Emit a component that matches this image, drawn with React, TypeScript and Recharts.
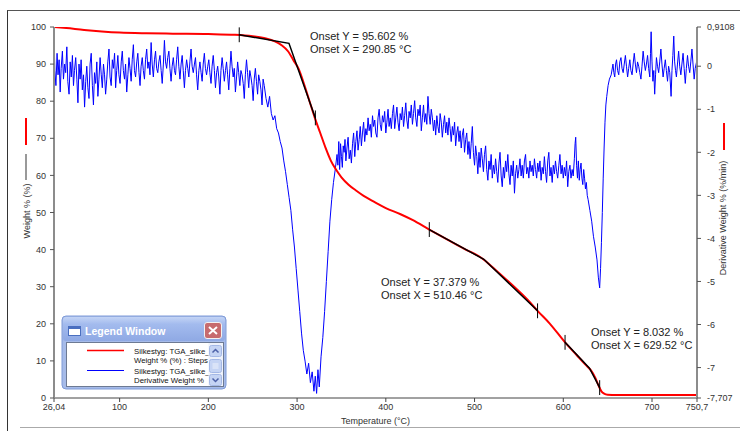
import React from 'react';
import { ComposedChart, Line, XAxis, YAxis, ReferenceLine } from 'recharts';

// temperature (°C) axis and the two value axes
const tempTicks = [26.04, 100, 200, 300, 400, 500, 600, 700, 750.7];
const weightTicks = [0, 10, 20, 30, 40, 50, 60, 70, 80, 90, 100];
const derivTicks = [0.9108, 0, -1, -2, -3, -4, -5, -6, -7, -7.707];

// TGA weight % vs temperature
const weightCurve: [number, number][] = [
  [26.04, 100], [40, 99.7], [60, 99.2], [80, 98.8], [100, 98.5], [130, 98.3], [160, 98.2],
  [200, 98.1], [230, 97.9], [250, 97.5], [265, 96.9], [275, 96.1], [283, 95.0], [290, 93.4],
  [296, 91.0], [302, 88.6], [308, 84.5], [314, 80.0], [320, 75.5], [326, 71.5], [332, 67.5],
  [338, 64.0], [344, 61.5], [350, 59.5], [358, 57.5], [366, 56.0], [375, 54.5], [386, 53.0],
  [400, 51.2], [416, 49.6], [430, 48.0], [449, 45.4], [470, 42.6], [490, 40.0], [505, 38.2],
  [512, 37.0], [520, 35.3], [540, 31.0], [560, 26.4], [571, 23.5], [585, 20.0], [602, 15.0],
  [615, 11.6], [625, 9.0], [631, 7.5], [636, 5.5], [640, 3.2], [643, 1.8], [646, 1.2],
  [650, 0.9], [660, 0.8], [750.7, 0.8],
];

// derivative weight % (%/min)
const derivCurve: [number, number][] = [
  [26.04, 0.72], [27, -0.1], [28.2, -0.45], [29.5, 0.3], [30.6, -0.2], [31.8, 0.15], [33, -0.6],
  [34.1, -0.05], [35.5, 0.35], [36.7, -0.3], [38, 0.05], [39.2, -0.15], [40.5, 0.45], [41.6, -0.35],
  [43, -0.65], [44.3, 0.1], [45.5, -0.25], [46.8, 0.25], [48, -0.45], [49.1, -0.1], [50.5, 0.2],
  [51.8, -0.3], [53, -0.85], [54.2, 0.05], [55.5, -0.3], [56.6, 0.15], [58, -0.55], [59.3, -0.2],
  [60.5, -0.95], [61.8, -0.35], [63, 0.0], [64.2, -0.5], [65.5, -0.75], [66.7, 0.05], [68, 0.3],
  [69.3, -0.45], [70.5, -0.9], [71.7, -0.15], [73, -0.4], [74.3, 0.1], [75.5, -0.7], [76.7, -0.3],
  [78, 0.2], [79.3, -0.2], [80.5, -0.5], [81.8, 0.05], [83, -0.2], [84.2, -0.65], [85.5, -0.3],
  [86.7, 0.1], [88, 0.4], [89.2, -0.25], [90.5, -0.45], [91.8, 0.15], [93, -0.05], [94.3, 0.3],
  [95.5, -0.5], [96.7, -0.1], [98, 0.25], [99.2, -0.2], [100.5, -0.4], [101.8, 0.1], [103, 0.35],
  [104.2, -0.1], [105.5, -0.3], [106.7, 0.05], [108, -0.6], [109.3, -0.2], [110.5, 0.2],
  [111.7, -0.05], [113, -0.35], [114.2, 0.15], [115.5, 0.5], [116.7, -0.1], [118, -0.25],
  [119.3, 0.1], [120.5, 0.3], [121.8, -0.15], [123, -0.45], [124.2, 0.0], [125.5, 0.2],
  [126.7, -0.1], [128, -0.3], [129.2, 0.15], [130.5, 0.4], [131.8, -0.05], [133, 0.1], [134.2, -0.2],
  [135.5, 0.55], [136.7, 0.05], [138, -0.25], [139.3, 0.15], [140.5, 0.35], [141.7, -0.05],
  [143, -0.15], [144.2, 0.1], [145.5, 0.25], [146.8, -0.1], [148, -0.4], [149.3, 0.05], [150.5, 0.6],
  [151.7, 0.1], [153, -0.05], [154.2, 0.2], [155.5, 0.35], [156.7, -0.05], [158, -0.35], [159.2, 0.0],
  [160.5, 0.2], [161.8, -0.1], [163, -0.2], [164.2, 0.15], [165.5, 0.45], [166.7, 0.0], [168, -0.3],
  [169.3, 0.05], [170.5, 0.25], [171.7, -0.1], [173, -0.5], [174.2, -0.1], [175.5, 0.15],
  [176.8, -0.05], [178, -0.25], [179.2, 0.1], [180.5, 0.4], [181.7, 0.0], [183, -0.15], [184.3, 0.05],
  [185.5, 0.2], [186.7, -0.2], [188, -0.55], [189.3, -0.1], [190.5, 0.1], [191.8, -0.15], [193, -0.35],
  [194.2, 0.05], [195.5, 0.3], [196.7, -0.05], [198, -0.2], [199.3, 0.0], [200.5, 0.15], [201.7, -0.15],
  [203, -0.4], [204.2, 0.0], [205.5, 0.25], [206.8, -0.1], [208, -0.5], [209.3, -0.15], [210.5, 0.0],
  [211.7, -0.25], [213, -0.65], [214.2, -0.1], [215.5, 0.2], [216.7, -0.05], [218, -0.35],
  [219.3, -0.1], [220.5, 0.1], [221.7, -0.2], [223, -0.55], [224.3, -0.05], [225.5, 0.35], [226.7, 0.0],
  [228, -0.25], [229.2, -0.05], [230.5, -0.6], [231.8, -0.25], [233, 0.1], [234.2, -0.15],
  [235.5, -0.45], [236.7, -0.1], [238, -0.2], [239.3, -0.4], [240.5, -0.75], [241.7, -0.2], [243, 0.15],
  [244.2, -0.15], [245.5, -0.5], [246.7, -0.1], [248, -0.25], [249.3, -0.45], [250.5, -0.8],
  [251.7, -0.3], [253, -0.05], [254.2, -0.35], [255.5, -0.65], [256.7, -0.2], [258, -0.35],
  [259.3, -0.55], [260.5, -0.9], [261.7, -0.3], [263, -0.45], [265, -0.75], [267, -0.95],
  [269, -0.7], [271, -1.1], [273, -1.25], [275, -1.15], [277, -1.45], [279, -1.55], [281, -1.75],
  [283, -1.9], [285, -2.2], [287, -2.45], [289, -2.75], [291, -3.05], [293, -3.35], [295, -3.8],
  [297, -4.2], [299, -4.7], [301, -5.2], [303, -5.7], [305, -6.2], [307, -6.6], [309, -6.85],
  [311, -7.15], [313, -6.9], [315, -7.35], [317, -7.1], [319, -7.55], [320.5, -7.2], [322, -7.6],
  [323.5, -7.05], [325, -7.45], [327, -6.75], [329, -6.3], [331, -5.7], [333, -5.0], [335, -4.3],
  [337, -3.6], [339, -3.1], [341, -2.7], [343, -2.4], [345, -2.05], [346, -2.3], [347, -1.75],
  [348, -2.4], [349, -1.8], [350, -2.1], [351, -2.35], [352, -1.85], [353, -2.0], [354, -1.7],
  [355, -2.2], [356.2, -1.9], [357.5, -1.65], [358.7, -2.15], [360, -1.95], [361.2, -2.25],
  [362.5, -1.8], [363.7, -1.55], [365, -2.1], [366.2, -1.75], [367.5, -1.5], [368.7, -1.95],
  [370, -1.7], [371.2, -1.4], [372.5, -1.85], [373.7, -1.55], [375, -1.3], [376.2, -1.75],
  [377.5, -1.45], [378.7, -1.6], [380, -1.2], [381.2, -1.5], [382.5, -1.35], [383.7, -1.65],
  [385, -1.15], [386.2, -1.4], [387.5, -1.25], [388.7, -1.55], [390, -1.65], [391.2, -1.2],
  [392.5, -1.0], [393.7, -1.35], [395, -1.5], [396.2, -1.15], [397.5, -1.3], [398.7, -1.05],
  [400, -1.55], [401.2, -1.3], [402.5, -1.0], [403.7, -1.4], [405, -1.2], [406.2, -1.45],
  [407.5, -1.1], [408.7, -0.9], [410, -1.45], [411.2, -1.2], [412.5, -0.95], [413.7, -1.3],
  [415, -1.5], [416.2, -1.1], [417.5, -1.25], [418.7, -0.95], [420, -1.4], [421.2, -1.15],
  [422.5, -0.85], [423.7, -1.25], [425, -1.45], [426.2, -1.05], [427.5, -1.2], [428.7, -0.9],
  [430, -1.35], [431.2, -1.1], [432.5, -0.8], [433.7, -1.2], [435, -1.4], [436.2, -1.0],
  [437.5, -1.15], [438.7, -0.9], [440, -1.5], [441.2, -1.2], [442.5, -0.9], [443.7, -1.3],
  [445, -1.1], [446.2, -1.35], [447.5, -0.7], [448.7, -1.1], [450, -1.35], [451.2, -1.0],
  [452.5, -1.2], [453.7, -1.5], [455, -1.25], [456.2, -1.6], [457.5, -1.15], [458.7, -1.4],
  [460, -1.55], [461.2, -1.1], [462.5, -1.3], [463.7, -1.65], [465, -1.35], [466.2, -1.15],
  [467.5, -1.55], [468.7, -1.3], [470, -1.6], [471.2, -1.2], [472.5, -1.45], [473.7, -1.75],
  [475, -1.4], [476.2, -1.6], [477.5, -1.3], [478.7, -1.85], [480, -1.55], [481.2, -1.4],
  [482.5, -1.75], [483.7, -1.5], [485, -1.9], [486.2, -1.6], [487.5, -1.45], [488.7, -2.0],
  [490, -1.7], [491.2, -1.55], [492.5, -2.05], [493.7, -1.75], [495, -2.15], [496.2, -1.8],
  [497.5, -1.4], [498.7, -2.0], [500, -2.3], [501.2, -1.85], [502.5, -2.1], [503.7, -2.5],
  [505, -2.0], [506.2, -2.35], [507.5, -1.9], [508.7, -2.15], [510, -2.45], [511.2, -2.05],
  [512.5, -1.85], [513.7, -2.4], [515, -2.65], [516.2, -2.2], [517.5, -2.4], [518.7, -2.05],
  [520, -2.6], [521.2, -2.3], [522.5, -2.5], [523.7, -2.15], [525, -2.45], [526.2, -2.7],
  [527.5, -2.25], [528.7, -2.0], [530, -2.55], [531.2, -2.8], [532.5, -2.35], [533.7, -2.6],
  [535, -2.2], [536.2, -2.45], [537.5, -2.05], [538.7, -2.5], [540, -2.75], [541.2, -2.3],
  [542.5, -2.55], [543.7, -2.2], [545, -2.95], [546.2, -2.5], [547.5, -2.3], [548.7, -2.6],
  [550, -2.4], [551.2, -2.15], [552.5, -2.55], [553.7, -2.3], [555, -2.6], [556.2, -2.2],
  [557.5, -2.05], [558.7, -2.5], [560, -2.35], [561.2, -2.6], [562.5, -2.2], [563.7, -2.45],
  [565, -2.3], [566.2, -2.55], [567.5, -2.15], [568.7, -2.4], [570, -2.6], [571.2, -2.25],
  [572.5, -2.45], [573.7, -2.2], [575, -2.65], [576.2, -2.35], [577.5, -2.5], [578.7, -2.1],
  [580, -2.45], [581.2, -2.7], [582.5, -2.2], [583.7, -2.0], [585, -2.55], [586.2, -2.35],
  [587.5, -2.7], [588.7, -2.3], [590, -2.5], [591.2, -2.2], [592.5, -2.45], [593.7, -2.6],
  [595, -2.3], [596.2, -2.05], [597.5, -2.5], [598.7, -2.3], [600, -2.6], [601.2, -2.35],
  [602.5, -2.55], [603.7, -2.2], [605, -2.8], [606.2, -2.45], [607.5, -2.3], [608.7, -2.6],
  [610, -2.4], [611.2, -2.55], [612.5, -2.15], [613.3, -1.8], [614, -1.65], [615, -2.3],
  [616, -2.6], [617, -2.2], [618, -2.65], [619, -2.4], [620, -2.25], [621, -2.6], [622, -2.75],
  [623, -2.4], [624, -2.6], [625, -2.85], [626, -2.7], [627, -3.0], [628, -3.1], [630, -3.35],
  [632, -3.6], [634, -3.95], [636, -4.2], [638, -4.5], [639.5, -4.9], [641, -5.15], [642, -4.7],
  [643, -4.1], [644, -3.4], [645, -2.6], [646, -1.9], [647, -1.3], [648, -0.9], [649, -0.7],
  [650.5, -0.45], [652, -0.3], [654, -0.2], [656, 0.05], [657, -0.15], [658, -0.25], [659, 0.05],
  [660, 0.15], [661.2, -0.1], [662.5, -0.2], [663.7, 0.1], [665, 0.2], [666.2, -0.05],
  [667.5, -0.15], [668.7, 0.05], [670, 0.25], [671.2, 0.0], [672.5, -0.25], [673.7, -0.05],
  [675, 0.15], [676.2, -0.1], [677.5, -0.2], [678.7, 0.05], [680, 0.3], [681.2, 0.05],
  [682.5, -0.15], [683.7, 0.1], [685, 0.0], [686.2, -0.15], [687.5, -0.3], [688.7, 0.0],
  [690, 0.35], [691.2, 0.1], [692.5, -0.1], [693.7, 0.05], [695, 0.25], [696.2, -0.05],
  [697.5, -0.25], [698.3, 0.3], [699, 0.8], [700, 0.1], [701, -0.35], [702, -0.1], [703, -0.65],
  [704, -0.2], [705, 0.2], [706.2, 0.0], [707.5, -0.15], [708.7, 0.1], [710, 0.4], [711.2, 0.05],
  [712.5, -0.25], [713.7, -0.05], [715, 0.15], [716.2, -0.1], [717.5, -0.35], [718.7, 0.0],
  [720, -0.15], [721.5, -0.7], [722.5, -0.1], [723.5, 0.25], [724.5, 0.7], [725.5, 0.1],
  [726.5, -0.1], [727.5, -0.25], [728.7, 0.05], [730, 0.35], [731.2, 0.0], [732.5, -0.2],
  [733.7, 0.05], [735, 0.3], [736.2, -0.05], [737.5, -0.4], [738.7, -0.05], [740, 0.25],
  [741.2, 0.0], [742.5, -0.15], [743.7, 0.1], [745, 0.4], [746.2, 0.05], [747.5, -0.3],
  [748.7, -0.05], [750.7, 0.15],
];

// onset tangent constructions: start, onset, end
const tangents: [number, number][][] = [
  [[234.8, 97.9], [290.85, 95.602], [320.6, 75.5]],
  [[449, 45.4], [510.46, 37.379], [571, 23.5]],
  [[602, 15.0], [629.52, 8.032], [641, 2.8]],
];

const onsetY = ['95.602', '37.379', '8.032'];
const onsetX = ['290.85', '510.46', '629.52'];
const onsetTextPos = [
  { x: 310, y: 39.5 },
  { x: 381, y: 285.5 },
  { x: 591, y: 335.5 },
];

const legendEntries = [
  ['Silkestyg: TGA_silke_', 'Weight % (%) : Steps'],
  ['Silkestyg: TGA_silke_', 'Derivative Weight %'],
];

const FONT = '"Liberation Sans", Arial, sans-serif';
const W = 740;
const H = 431;
const TICK_HALF = 2;

const fmt = (v: number) => String(v).replace('.', ',');

const weightData = weightCurve.map(([t, w]) => ({ t, w }));
const derivData = derivCurve.map(([t, d]) => ({ t, d }));

function LegendWindow() {
  return (
    <g fontFamily={FONT}>
      <defs>
        <linearGradient id="ttl" x1="0" y1="0" x2="0" y2="1">
          <stop offset="0" stopColor="#c3d4f5" />
          <stop offset="0.3" stopColor="#a3bbee" />
          <stop offset="1" stopColor="#8fa9e4" />
        </linearGradient>
      </defs>
      <rect x={62} y={316} width={164} height={73} rx={4} fill="#a6bbe9" stroke="#7f9bd8" />
      <rect x={63} y={317} width={162} height={24} rx={3} fill="url(#ttl)" />
      <rect x={68.5} y={326.5} width={12} height={9} fill="#fff" stroke="#4a6fc0" />
      <rect x={68.5} y={326.5} width={12} height={2.5} fill="#4a6fc0" />
      <text x={85} y={335} fontSize={10.5} fontWeight="bold" fill="#fff">Legend Window</text>
      <rect x={204.5} y={322.5} width={17} height={16} rx={2.5} fill="#c76b6e" stroke="#f2f2f2" />
      <path d="M209 327 L217 334 M217 327 L209 334" stroke="#fff" strokeWidth={2} />
      <rect x={66.5} y={342.5} width={157} height={44} fill="#fff" stroke="#6d7a93" />
      <line x1={87} x2={124} y1={350.5} y2={350.5} stroke="#ff0000" strokeWidth={1.5} />
      <line x1={87} x2={124} y1={370.5} y2={370.5} stroke="#0000ff" strokeWidth={1} />
      {legendEntries.map((lines, i) => (
        <g key={i}>
          <text x={134} y={354 + i * 19.5} fontSize={7.8} fill="#111">{lines[0]}</text>
          <text x={134} y={363 + i * 19.5} fontSize={7.8} fill="#111">{lines[1]}</text>
        </g>
      ))}
      <rect x={208.5} y={343} width={14.5} height={43} fill="#eef2fb" />
      <rect x={209.5} y={345.5} width={12} height={11} rx={2} fill="#c5d4f4" stroke="#a4b8e6" />
      <path d="M212.5 352.5 L215.5 349.5 L218.5 352.5" fill="none" stroke="#4d61a8" strokeWidth={1.5} />
      <rect x={209.5} y={359.5} width={12} height={13} rx={2} fill="#c5d4f4" stroke="#a4b8e6" />
      <path d="M212.5 364 H218.5 M212.5 366 H218.5 M212.5 368 H218.5" stroke="#eef2fb" strokeWidth={1} />
      <rect x={209.5} y={374.5} width={12} height={11} rx={2} fill="#c5d4f4" stroke="#a4b8e6" />
      <path d="M212.5 378.5 L215.5 381.5 L218.5 378.5" fill="none" stroke="#4d61a8" strokeWidth={1.5} />
    </g>
  );
}

export default function App() {
  return (
    <div style={{ position: 'absolute', left: 0, top: 0, width: W, height: H, background: '#fff', overflow: 'hidden', fontFamily: FONT }}>
      <ComposedChart width={W} height={H} margin={{ top: 27, right: 0, bottom: 0, left: 0 }}>
        <XAxis
          type="number"
          dataKey="t"
          domain={[26.04, 750.7]}
          ticks={tempTicks}
          interval={0}
          allowDataOverflow
          height={33}
          tickFormatter={fmt}
          tickSize={4}
          tickMargin={2}
          axisLine={{ stroke: '#444' }}
          tickLine={{ stroke: '#444' }}
          tick={{ fontSize: 9, fill: '#333', fontFamily: FONT }}
        />
        <YAxis
          yAxisId="left"
          domain={[0, 100]}
          ticks={weightTicks}
          interval={0}
          allowDataOverflow
          width={54}
          tickSize={4}
          tickMargin={4}
          axisLine={{ stroke: '#8c8c8c', strokeWidth: 2 }}
          tickLine={{ stroke: '#555' }}
          tick={{ fontSize: 9, fill: '#333', fontFamily: FONT }}
        />
        <YAxis
          yAxisId="right"
          orientation="right"
          domain={[-7.707, 0.9108]}
          ticks={derivTicks}
          interval={0}
          allowDataOverflow
          width={43}
          tickSize={4}
          tickMargin={6}
          tickFormatter={fmt}
          axisLine={{ stroke: '#8c8c8c', strokeWidth: 2 }}
          tickLine={{ stroke: '#555' }}
          tick={{ fontSize: 9, fill: '#333', fontFamily: FONT }}
        />
        <Line
          yAxisId="right"
          data={derivData}
          dataKey="d"
          type="linear"
          stroke="#0000ff"
          strokeWidth={1}
          dot={false}
          activeDot={false}
          isAnimationActive={false}
        />
        <Line
          yAxisId="left"
          data={weightData}
          dataKey="w"
          type="monotone"
          stroke="#ff0000"
          strokeWidth={2}
          dot={false}
          activeDot={false}
          isAnimationActive={false}
        />
        {tangents.map((pts, i) => (
          <Line
            key={'tan' + i}
            yAxisId="left"
            data={pts.map(([t, w]) => ({ t, w }))}
            dataKey="w"
            type="linear"
            stroke="#000"
            strokeWidth={1.5}
            dot={false}
            activeDot={false}
            isAnimationActive={false}
          />
        ))}
        {tangents.flatMap((pts, i) =>
          [pts[0], pts[pts.length - 1]].map(([t, w], j) => (
            <ReferenceLine
              key={`tick${i}-${j}`}
              yAxisId="left"
              segment={[{ x: t, y: w - TICK_HALF }, { x: t, y: w + TICK_HALF }]}
              stroke="#000"
              strokeWidth={1}
            />
          ))
        )}
      </ComposedChart>
      <svg width={W} height={H} style={{ position: 'absolute', left: 0, top: 0, pointerEvents: 'none' }}>
        {/* outer frame */}
        <line x1={7.5} x2={7.5} y1={10} y2={H} stroke="#333" />
        <line x1={7.5} x2={W} y1={10.5} y2={10.5} stroke="#555" />
        <line x1={20} x2={W} y1={427.5} y2={427.5} stroke="#aaa" />

        {/* axis titles */}
        <line x1={26} x2={26} y1={118} y2={145} stroke="#ff0000" strokeWidth={2} />
        <line x1={26} x2={26} y1={154} y2={180} stroke="#777" strokeWidth={1.5} />
        <text transform="translate(27,211) rotate(-90)" textAnchor="middle" dy="0.35em" fontSize={9} fill="#333" fontFamily={FONT}>
          Weight % (%)
        </text>
        <line x1={724} x2={724} y1={123} y2={150} stroke="#ff0000" strokeWidth={2} />
        <text transform="translate(723,218) rotate(-90)" textAnchor="middle" dy="0.35em" fontSize={9} fill="#333" fontFamily={FONT}>
          Derivative Weight % (%/min)
        </text>
        <text x={375.5} y={424} textAnchor="middle" fontSize={9} fill="#333" fontFamily={FONT}>
          Temperature (°C)
        </text>

        {/* onset annotations */}
        {onsetTextPos.map((p, i) => (
          <g key={i} fontFamily={FONT} fontSize={11} fill="#222">
            <text x={p.x} y={p.y}>{`Onset Y = ${onsetY[i]} %`}</text>
            <text x={p.x} y={p.y + 13.5}>{`Onset X = ${onsetX[i]} °C`}</text>
          </g>
        ))}

        <LegendWindow />
      </svg>
    </div>
  );
}
